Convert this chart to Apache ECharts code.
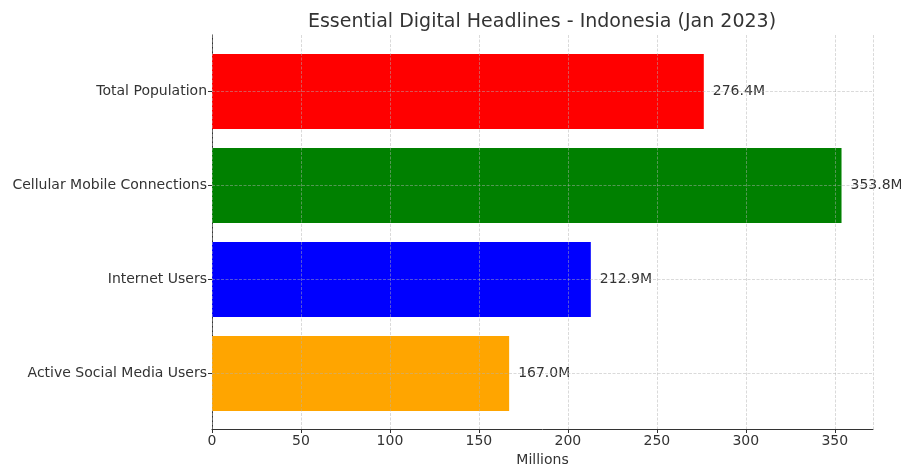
<!DOCTYPE html>
<html>
<head>
<meta charset="utf-8">
<script src="https://cdn.jsdelivr.net/npm/echarts@6/dist/echarts.min.js"></script>
<style>html,body{margin:0;padding:0;background:#fff;}#c{width:901px;height:464px;}</style>
</head>
<body>
<div id="c"></div>
<script>
const categories = ['Total Population', 'Cellular Mobile Connections', 'Internet Users', 'Active Social Media Users'];
const values = [276.4, 353.8, 212.9, 167.0];
const barColors = ['#ff0000', '#008000', '#0000ff', '#ffa500'];
const xTickStep = 50;
const xMax = 371.49;
const titleText = 'Essential Digital Headlines - Indonesia (Jan 2023)';
const xName = 'Millions';

const FONT = 'DejaVu Sans';
const gridLine = { show: true, lineStyle: { color: 'rgba(176,176,176,0.6)', width: 0.8, type: [3, 1.5] } };

const chart = echarts.init(document.getElementById('c'), null, { renderer: 'canvas' });
chart.setOption({
  backgroundColor: '#fff',
  animation: false,
  textStyle: { fontFamily: FONT },
  title: {
    text: titleText, left: 537, top: 8, textAlign: 'center',
    textStyle: { fontFamily: FONT, fontSize: 19, fontWeight: 'normal', color: '#333' }
  },
  grid: [
    { left: 212, right: 28, top: 35, bottom: 35, containLabel: false, outerBoundsMode: 'none' },
    { left: 212, right: 28, top: 91.5, bottom: 90.5, containLabel: false, outerBoundsMode: 'none' }
  ],
  xAxis: [
    {
      gridIndex: 0, type: 'value', min: 0, max: xMax, interval: xTickStep, z: 5,
      axisLine: { show: true, lineStyle: { color: '#333', width: 1 } },
      axisTick: { show: true, length: 4, lineStyle: { color: '#333' } },
      axisLabel: { show: true, margin: 5, fontSize: 14, color: '#333', fontFamily: FONT, showMaxLabel: false,
        formatter: v => (v <= 350 ? String(v) : '') },
      splitLine: gridLine,
      name: xName, nameLocation: 'middle', nameGap: 22,
      nameTextStyle: { fontSize: 14, color: '#333', fontFamily: FONT }
    },
    {
      gridIndex: 1, type: 'value', min: 0, max: xMax, show: false
    }
  ],
  yAxis: [
    {
      gridIndex: 0, type: 'value', min: 0, max: 1,
      axisLine: { show: true, lineStyle: { color: '#333', width: 1 } },
      axisTick: { show: false }, axisLabel: { show: false }, splitLine: { show: false }
    },
    {
      gridIndex: 1, type: 'category', data: categories, inverse: true, boundaryGap: false, z: 5,
      axisLine: { show: false },
      axisTick: { show: true, length: 4, lineStyle: { color: '#333' } },
      axisLabel: { margin: 5, fontSize: 14, color: '#333', fontFamily: FONT },
      splitLine: gridLine
    }
  ],
  series: [{
    type: 'bar', xAxisIndex: 1, yAxisIndex: 1, barWidth: 75, z: 2,
    data: values.map((v, i) => ({ value: v, itemStyle: { color: barColors[i] } })),
    label: {
      show: true, position: 'right', distance: 9, fontSize: 14, color: '#333', fontFamily: FONT,
      formatter: p => p.value.toFixed(1) + 'M'
    }
  }]
});
</script>
</body>
</html>
